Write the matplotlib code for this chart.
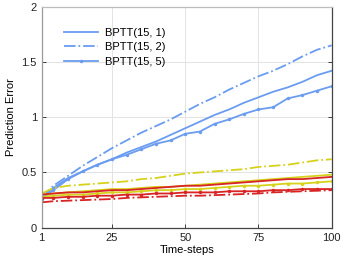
import matplotlib
matplotlib.use("Agg")
import matplotlib.pyplot as plt

plt.rcParams['font.family'] = ['Liberation Sans', 'DejaVu Sans']

steps = [1, 5, 10, 15, 20, 25, 30, 35, 40, 45, 50, 55, 60, 65, 70, 75, 80, 85, 90, 95, 100]

blue_1 = [0.27, 0.36, 0.45, 0.51, 0.57, 0.62, 0.68, 0.73, 0.78, 0.84, 0.90, 0.96, 1.02, 1.07, 1.13, 1.18, 1.23, 1.27, 1.32, 1.38, 1.42]
blue_2 = [0.27, 0.38, 0.47, 0.56, 0.64, 0.72, 0.79, 0.86, 0.92, 0.98, 1.05, 1.12, 1.18, 1.25, 1.31, 1.37, 1.42, 1.48, 1.55, 1.61, 1.65]
blue_5 = [0.26, 0.34, 0.44, 0.51, 0.57, 0.62, 0.66, 0.71, 0.76, 0.79, 0.85, 0.87, 0.94, 0.98, 1.03, 1.07, 1.09, 1.17, 1.20, 1.24, 1.28]

yellow_1 = [0.30, 0.31, 0.32, 0.33, 0.34, 0.35, 0.35, 0.36, 0.37, 0.37, 0.38, 0.39, 0.40, 0.41, 0.42, 0.43, 0.44, 0.45, 0.46, 0.47, 0.48]
yellow_2 = [0.31, 0.36, 0.38, 0.39, 0.40, 0.41, 0.42, 0.44, 0.45, 0.47, 0.49, 0.50, 0.51, 0.52, 0.53, 0.55, 0.56, 0.57, 0.59, 0.61, 0.62]
yellow_5 = [0.28, 0.29, 0.30, 0.30, 0.31, 0.32, 0.32, 0.33, 0.34, 0.34, 0.35, 0.35, 0.36, 0.37, 0.38, 0.38, 0.39, 0.40, 0.40, 0.41, 0.42]

red_1 = [0.30, 0.31, 0.32, 0.32, 0.33, 0.34, 0.34, 0.35, 0.36, 0.37, 0.38, 0.38, 0.39, 0.40, 0.41, 0.42, 0.43, 0.44, 0.44, 0.45, 0.46]
red_2 = [0.23, 0.24, 0.245, 0.25, 0.255, 0.26, 0.27, 0.275, 0.28, 0.285, 0.29, 0.29, 0.295, 0.30, 0.305, 0.31, 0.32, 0.325, 0.33, 0.335, 0.34]
red_5 = [0.27, 0.27, 0.28, 0.28, 0.29, 0.29, 0.30, 0.30, 0.31, 0.31, 0.32, 0.32, 0.32, 0.33, 0.33, 0.33, 0.34, 0.34, 0.35, 0.35, 0.35]

legend_labels = ['BPTT(15, 1)', 'BPTT(15, 2)', 'BPTT(15, 5)']
xticks = [1, 25, 50, 75, 100]
yticks = [0, 0.5, 1, 1.5, 2]
yticklabels = ['0', '0.5', '1', '1.5', '2']

BLUE = '#6a9cf0'
YELLOW = '#d6d21c'
RED = '#d82424'
lw = 1.3

fig = plt.figure(figsize=(3.43, 2.63), dpi=100)
ax = fig.add_axes([0.1216, 0.134, 0.8454, 0.8407])

h1, = ax.plot(steps, blue_1, color=BLUE, lw=lw, label=legend_labels[0])
h2, = ax.plot(steps, blue_2, color=BLUE, lw=lw, ls='-.', label=legend_labels[1])
h3, = ax.plot(steps, blue_5, color=BLUE, lw=lw, marker='.', ms=3, label=legend_labels[2])

ax.plot(steps, yellow_1, color=YELLOW, lw=lw)
ax.plot(steps, yellow_2, color=YELLOW, lw=lw, ls='-.')
ax.plot(steps, yellow_5, color=YELLOW, lw=lw, marker='.', ms=3)

ax.plot(steps, red_1, color=RED, lw=lw)
ax.plot(steps, red_2, color=RED, lw=lw, ls='-.')
ax.plot(steps, red_5, color=RED, lw=lw, marker='.', ms=3)

ax.set_xlim(1, 100)
ax.set_ylim(0, 2)
ax.set_xticks(xticks)
ax.set_yticks(yticks)
ax.set_yticklabels(yticklabels)
ax.tick_params(direction='in', length=3, labelsize=8, colors='#222222', top=False, right=True, width=0.6)
ax.grid(True, color='#e3e3e3', lw=0.7)
ax.set_axisbelow(True)

ax.spines['left'].set_color('#9a9a9a')
ax.spines['bottom'].set_color('#444444')
ax.spines['right'].set_color('#444444')
ax.spines['top'].set_color('#bdbdbd')
for s in ax.spines.values():
    s.set_linewidth(0.9)

ax.set_xlabel('Time-steps', fontsize=8, labelpad=2)
ax.set_ylabel('Prediction Error', fontsize=8, labelpad=4)

ax.legend(handles=[h1, h2, h3], loc='upper left', bbox_to_anchor=(0.06, 0.925),
          frameon=False, fontsize=8, handlelength=3.1, handletextpad=0.6,
          labelspacing=0.42, borderaxespad=0)

fig.savefig('out.png', dpi=100)
